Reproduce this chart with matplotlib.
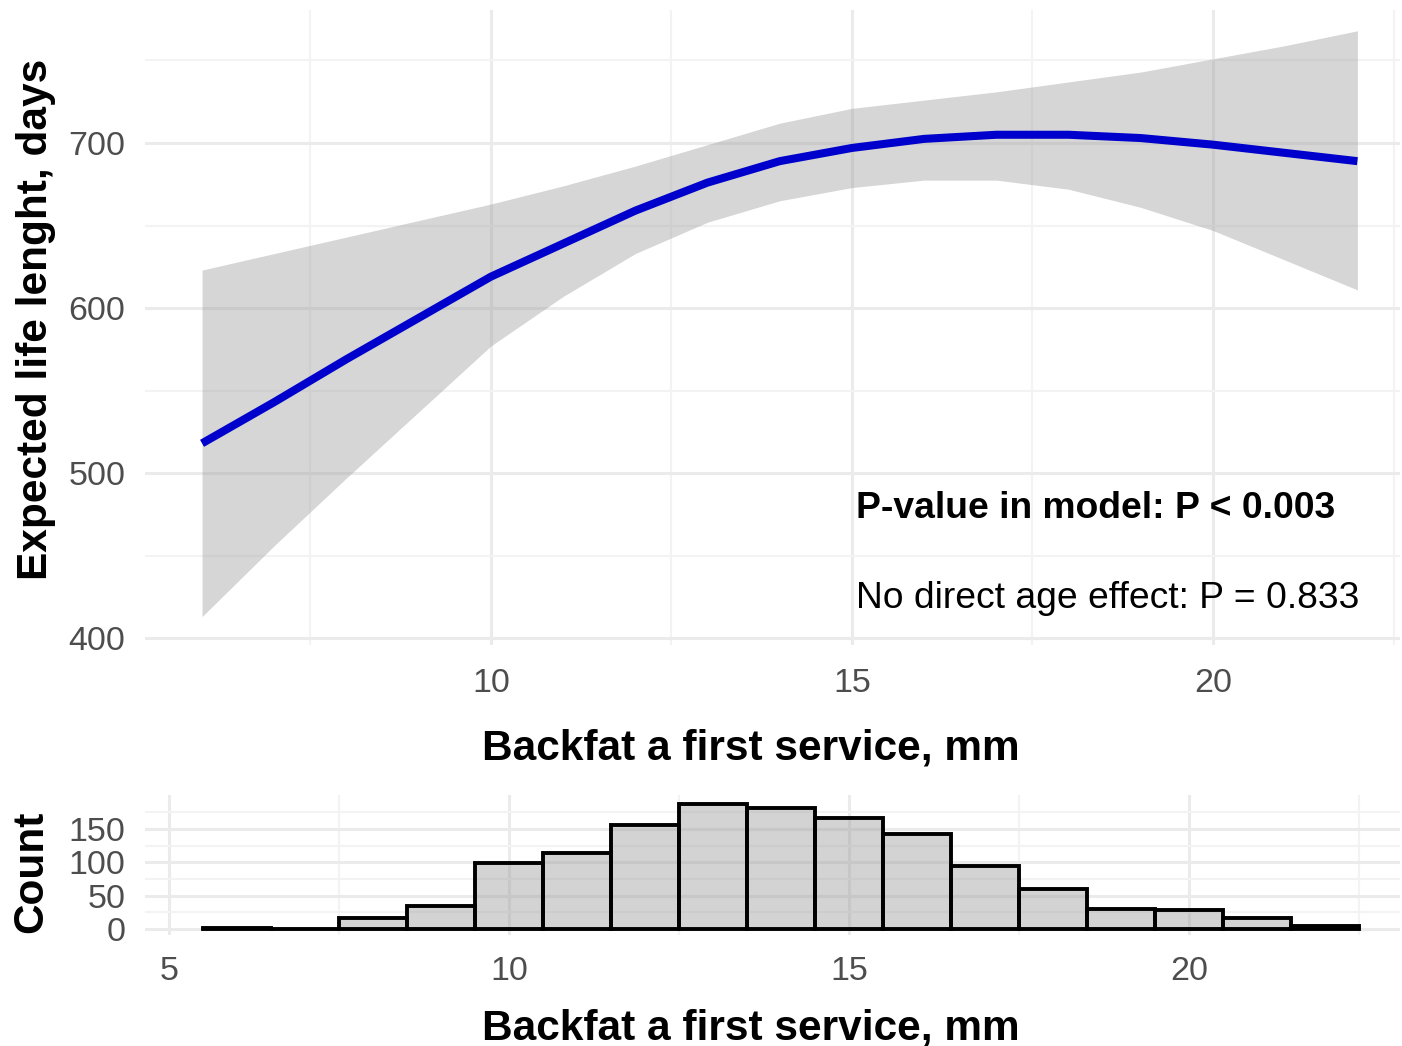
import matplotlib.pyplot as plt
import numpy as np

plt.rcParams['font.family'] = ['Liberation Sans', 'DejaVu Sans']

# fitted curve with confidence band (top panel)
backfat = [6, 7, 8, 9, 10, 11, 12, 13, 14, 15, 16, 17, 18, 19, 20, 21, 22]
fit = [518, 543, 569, 594, 619, 639, 659, 676, 689, 697, 702.5, 705, 705, 703, 699, 694, 689]
upper = [623, 633, 643, 653, 663, 674, 686, 699, 712, 721, 726, 731, 737, 743, 751, 759, 768]
lower = [413, 456, 497, 537, 577, 607, 633, 652, 665, 673, 677.5, 677.5, 672, 661, 647, 629, 611]

# histogram of backfat (bottom panel), bins of width 1 centred on integers
bin_centers = [6, 7, 8, 9, 10, 11, 12, 13, 14, 15, 16, 17, 18, 19, 20, 21, 22]
counts = [2, 0, 16, 34, 99, 114, 156, 188, 182, 167, 142, 95, 60, 30, 28, 16, 4]

W, H = 1402, 1046
fig = plt.figure(figsize=(W / 100, H / 100), dpi=100)

grid_major = '#EBEBEB'
grid_minor = '#F3F3F3'
tick_col = '#4D4D4D'


def style(ax):
    for s in ax.spines.values():
        s.set_visible(False)
    ax.grid(True, which='major', color=grid_major, linewidth=2.2, zorder=0)
    ax.grid(True, which='minor', color=grid_minor, linewidth=1.5, zorder=0)
    ax.set_axisbelow(True)
    ax.tick_params(which='both', length=0, labelsize=24.5, labelcolor=tick_col)


# top panel
ax1 = fig.add_axes([145 / W, 1 - 645 / H, 1255 / W, 635 / H])
style(ax1)
ax1.fill_between(backfat, lower, upper, color='#999999', alpha=0.4, linewidth=0, zorder=2)
ax1.plot(backfat, fit, color='#0000CD', linewidth=5.8, solid_capstyle='butt', zorder=3)
ax1.set_xlim(5.21, 22.59)
ax1.set_ylim(395.8, 780.6)
ax1.set_xticks([10, 15, 20])
ax1.set_xticks([7.5, 12.5, 17.5, 22.5], minor=True)
ax1.set_yticks([400, 500, 600, 700])
ax1.set_yticks([450, 550, 650, 750], minor=True)
ax1.tick_params(axis='x', pad=16.5)
ax1.tick_params(axis='y', pad=14)
ax1.set_xlabel('Backfat a first service, mm', fontsize=30.5, fontweight='bold')
ax1.xaxis.set_label_coords(0.483, -0.163)
ax1.xaxis.label.set_va('center')
ax1.set_ylabel('Expected life lenght, days', fontsize=30.5, fontweight='bold')
ax1.yaxis.set_label_coords(-0.087, 0.513)
ax1.yaxis.label.set_va('center')

ax1.text(15.06, 478.8, 'P-value in model: P < 0.003', fontsize=26.8, fontweight='bold',
         ha='left', va='center')
ax1.text(15.06, 424.2, 'No direct age effect: P = 0.833', fontsize=26.8,
         ha='left', va='center')

# bottom panel
ax2 = fig.add_axes([145 / W, 1 - 935 / H, 1255 / W, 140 / H])
style(ax2)
ax2.bar(bin_centers, counts, width=1, color=(0.6, 0.6, 0.6, 0.43), edgecolor='black',
        linewidth=2.8, zorder=2)
ax2.set_xlim(4.65, 23.1)
ax2.set_ylim(-9, 201)
ax2.set_xticks([5, 10, 15, 20])
ax2.set_xticks([7.5, 12.5, 17.5, 22.5], minor=True)
ax2.set_yticks([0, 50, 100, 150])
ax2.set_yticks([25, 75, 125, 175], minor=True)
ax2.tick_params(axis='x', pad=15)
ax2.tick_params(axis='y', pad=14)
ax2.set_xlabel('Backfat a first service, mm', fontsize=30.5, fontweight='bold')
ax2.xaxis.set_label_coords(0.483, -0.67)
ax2.xaxis.label.set_va('center')
ax2.set_ylabel('Count', fontsize=30.5, fontweight='bold')
ax2.yaxis.set_label_coords(-0.091, 0.45)
ax2.yaxis.label.set_va('center')

fig.savefig('out.png', dpi=100)
